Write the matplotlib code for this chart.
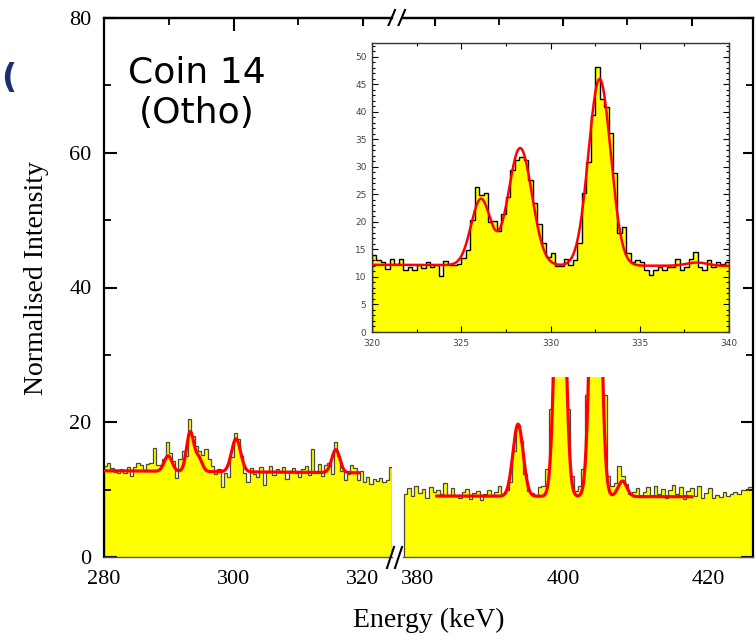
import numpy as np
import matplotlib
matplotlib.use('Agg')
import matplotlib.pyplot as plt
from matplotlib.patches import Rectangle
from matplotlib.lines import Line2D
from matplotlib.ticker import MultipleLocator

W, H = 756, 634

# ---------------- data ----------------
left_start, left_width = 280.0, 0.5
left_counts = [13.5, 13.9, 13.2, 12.6, 12.4, 13.1, 12.5, 13.3, 12.0, 13.4,
               14.0, 13.6, 12.7, 13.8, 13.9, 16.2, 13.6, 13.7, 14.5, 17.1,
               15.5, 14.2, 11.7, 14.5, 15.8, 15.0, 20.5, 18.0, 16.5, 15.8,
               15.2, 16.0, 14.6, 13.5, 12.3, 13.0, 10.4, 12.5, 11.8, 14.8,
               18.4, 17.5, 15.0, 12.4, 11.2, 13.2, 12.3, 11.9, 13.3, 10.7,
               12.8, 13.5, 12.2, 13.0, 12.7, 13.4, 11.6, 12.8, 13.2, 12.4,
               11.9, 13.0, 13.5, 12.2, 16.0, 12.4, 13.8, 12.0, 13.6, 14.0,
               12.3, 17.1, 15.0, 12.7, 11.5, 12.3, 13.6, 13.2, 11.4, 12.8,
               11.2, 11.9, 10.8, 11.6, 11.3, 11.7, 11.1, 11.5, 13.3]

right_start, right_width = 378.0, 0.5
right_counts = [9.3, 10.2, 9.0, 10.6, 9.5, 10.1, 8.8, 10.4, 9.6, 9.9,
                9.4, 11.0, 9.2, 10.3, 9.1, 8.7, 9.6, 10.1, 8.6, 9.5,
                9.8, 8.5, 9.4, 9.9, 9.2, 9.7, 10.5, 9.3, 10.0, 11.2,
                15.8, 19.6, 17.2, 12.3, 9.8, 9.5, 9.2, 10.4, 10.5, 13.0,
                22.0, 40.0, 55.0, 58.0, 42.0, 22.0, 12.0, 9.8, 10.5, 13.0,
                24.0, 45.0, 63.0, 66.0, 46.0, 24.0, 12.0, 10.5,
                11.0, 13.5, 12.0, 10.8, 9.3, 9.6, 10.2, 8.9, 9.7, 10.4, 9.1, 10.6,
                9.4, 10.1, 8.8, 9.9, 10.7, 9.3, 10.4, 8.6, 9.8, 10.3,
                9.0, 10.5, 8.7, 9.5, 10.2, 8.8, 9.2, 8.9, 9.6, 9.1,
                9.4, 9.7, 9.3, 9.9, 10.0, 10.4, 10.1]

inset_start, inset_width = 320.0, 0.25
inset_counts = [13.9, 13.0, 12.7, 11.4, 13.3, 12.4, 13.3, 11.3, 11.8, 11.3,
                12.2, 11.6, 12.7, 11.8, 12.1, 10.1, 12.9, 12.2, 12.1, 12.3,
                13.5, 14.9, 20.3, 26.4, 24.8, 25.2, 20.0, 20.1, 18.3, 21.5,
                24.5, 29.4, 31.2, 31.8, 31.2, 27.6, 23.4, 19.7, 16.1, 13.7,
                14.3, 11.9, 12.0, 13.3, 12.1, 13.0, 16.1, 25.2, 30.9, 39.5,
                48.2, 42.4, 40.9, 36.1, 28.8, 17.9, 19.1, 14.3, 12.7, 13.0,
                12.7, 11.3, 10.3, 11.3, 11.8, 11.3, 11.8, 11.8, 13.3, 11.3,
                11.8, 13.3, 14.6, 11.8, 11.3, 13.0, 11.8, 12.7, 12.4, 12.7]

# fitted-curve parameters (baseline + gaussian peaks)
left_fit_range = (280.0, 319.4)
left_fit_base = (12.8, 12.5)
left_peak_E = [289.9, 293.3, 294.6, 300.4, 315.8]
left_peak_A = [2.3, 5.8, 2.0, 4.9, 3.4]
left_peak_S = [0.6, 0.55, 0.55, 0.7, 0.62]

right_fit_range = (382.6, 417.8)
right_fit_base = (9.05, 8.95)
right_peak_E = [393.8, 399.6, 404.5, 408.2]
right_peak_A = [10.7, 50.0, 57.0, 2.3]
right_peak_S = [0.7, 0.65, 0.65, 0.6]

inset_fit_range = (320.0, 340.0)
inset_fit_base = (12.2, 12.0)
inset_peak_E = [326.1, 328.3, 332.75, 338.2]
inset_peak_A = [12.0, 21.3, 33.9, 0.6]
inset_peak_S = [0.55, 0.66, 0.62, 0.6]

left_xticks = [280, 300, 320]
right_xticks = [380, 400, 420]
main_yticks = [0, 20, 40, 60, 80]

YELLOW = '#FFFF00'
RED = '#FF0000'
SERIF = ['Liberation Serif', 'DejaVu Serif']


def edges(start, width, n):
    return start + width * np.arange(n + 1)


def fit_curve(rng, base, Es, As, Ss):
    x = np.linspace(rng[0], rng[1], 800)
    y = base[0] + (base[1] - base[0]) * (x - rng[0]) / (rng[1] - rng[0])
    for e, a, s in zip(Es, As, Ss):
        y = y + a * np.exp(-(x - e) ** 2 / (2 * s ** 2))
    return x, y


def fx(px):
    return px / W


def fy(py):
    return (H - py) / H


fig = plt.figure(figsize=(W / 100, H / 100), dpi=100)

axL = fig.add_axes([fx(104), fy(557), (392 - 104) / W, (557 - 18) / H], zorder=1)
axR = fig.add_axes([fx(403), fy(557), (753 - 403) / W, (557 - 18) / H], zorder=1)

# histograms
for ax, st, wd, cnt in ((axL, left_start, left_width, left_counts),
                        (axR, right_start, right_width, right_counts)):
    e = edges(st, wd, len(cnt))
    ax.stairs(cnt, e, fill=True, color=YELLOW, baseline=0, zorder=1)
    ax.stairs(cnt, e, color='#4a4a3a', linewidth=0.9, baseline=0, zorder=2)

xl, yl = fit_curve(left_fit_range, left_fit_base, left_peak_E, left_peak_A, left_peak_S)
axL.plot(xl, yl, color=RED, lw=2.3, zorder=3)
xr, yr = fit_curve(right_fit_range, right_fit_base, right_peak_E, right_peak_A, right_peak_S)
axR.plot(xr, yr, color=RED, lw=2.3, zorder=3)

axL.set_xlim(280, 280 + (392 - 104) / 6.475)
axR.set_xlim(380 - (418 - 403) / 7.25, 380 + (753 - 418) / 7.25)
for ax in (axL, axR):
    ax.set_ylim(0, 80)
    ax.set_facecolor('none')
    for s in ('top', 'left', 'right'):
        ax.spines[s].set_linewidth(1.6)
    ax.spines['bottom'].set_linewidth(1.0)
    ax.spines['bottom'].set_color('#555555')

axL.spines['right'].set_visible(False)
axR.spines['left'].set_visible(False)

axL.set_xticks(left_xticks)
axR.set_xticks(right_xticks)
for ax in (axL, axR):
    ax.tick_params(axis='x', which='both', length=0, pad=9, labelsize=16,
                   bottom=True, top=False)
    for lab in ax.get_xticklabels():
        lab.set_fontfamily(SERIF)

axL.set_yticks(main_yticks)
axL.yaxis.set_minor_locator(MultipleLocator(10))
axL.tick_params(axis='y', which='major', direction='in', length=9, width=1.5,
                labelsize=16, pad=9, left=True, right=False)
axL.tick_params(axis='y', which='minor', direction='in', length=5, width=1.3,
                left=True, right=False)
for lab in axL.get_yticklabels():
    lab.set_fontfamily(SERIF)

axR.set_yticks(main_yticks)
axR.yaxis.set_minor_locator(MultipleLocator(10))
axR.tick_params(axis='y', which='major', direction='in', length=9, width=1.5,
                left=False, right=True, labelleft=False, labelright=False)
axR.tick_params(axis='y', which='minor', direction='in', length=5, width=1.3,
                left=False, right=True)

# top tick marks (placed as in the picture)
secL = axL.secondary_xaxis('top')
secL.set_xticks([300, 320])
secL.set_xticks([290, 310], minor=True)
secR = axR.secondary_xaxis('top')
secR.set_xticks([382.3, 400.0, 417.8])
secR.set_xticks([391.2, 408.8], minor=True)
for sec in (secL, secR):
    sec.tick_params(which='major', direction='in', length=9, width=1.5, labeltop=False)
    sec.tick_params(which='minor', direction='in', length=5, width=1.3, labeltop=False)
    sec.spines['top'].set_linewidth(1.6)

# break marks
for x0 in (387, 397):
    fig.add_artist(Line2D([fx(x0), fx(x0 + 8)], [fy(29), fy(10)], color='black', lw=1.5))
for x0 in (387, 395):
    fig.add_artist(Line2D([fx(x0), fx(x0 + 7)], [fy(568), fy(547)], color='black', lw=1.5))

# white panel behind the inset
fig.add_artist(Rectangle((fx(318), fy(377)), (743 - 318) / W, (377 - 26) / H,
                         transform=fig.transFigure, facecolor='white',
                         edgecolor='none', zorder=5))

# inset
axI = fig.add_axes([fx(372), fy(332), (729 - 372) / W, (332 - 43) / H], zorder=10)
ei = edges(inset_start, inset_width, len(inset_counts))
axI.stairs(inset_counts, ei, fill=True, color=YELLOW, baseline=0, zorder=1)
axI.stairs(inset_counts, ei, color='black', linewidth=1.0, baseline=0, zorder=2)
xi, yi = fit_curve(inset_fit_range, inset_fit_base, inset_peak_E, inset_peak_A, inset_peak_S)
axI.plot(xi, yi, color=RED, lw=1.8, zorder=3)
axI.set_xlim(320, 340)
axI.set_ylim(0, 52.5)
axI.xaxis.set_major_locator(MultipleLocator(5))
axI.xaxis.set_minor_locator(MultipleLocator(2.5))
axI.yaxis.set_major_locator(MultipleLocator(5))
axI.yaxis.set_minor_locator(MultipleLocator(1))
axI.tick_params(which='both', direction='in', top=True, right=True,
                labelsize=6.5, labelcolor='#444444', width=0.8)
axI.tick_params(axis='x', which='major', pad=5)
axI.tick_params(axis='y', which='major', pad=4)
axI.tick_params(which='major', length=4)
axI.tick_params(which='minor', length=2)
for s in axI.spines.values():
    s.set_linewidth(1.0)
    s.set_color('#333333')

fig.text(fx(543), fy(366), 'Energy (keV)', ha='center', va='center',
         fontsize=10, family=SERIF, color='#222222')
fig.text(fx(330), fy(183), 'Normalised Intensity', ha='center', va='center',
         rotation=90, fontsize=10, family=SERIF, color='#222222')

# main labels
fig.text(fx(429), fy(620), 'Energy (keV)', ha='center', va='center',
         fontsize=20, family=SERIF)
fig.text(fx(37), fy(278), 'Normalised Intensity', ha='center', va='center',
         rotation=90, fontsize=20, family=SERIF)

fig.text(fx(197), fy(93), 'Coin 14\n(Otho)', ha='center', va='center',
         fontsize=26, family=['DejaVu Sans'], linespacing=1.25, zorder=20)
fig.text(fx(9), fy(78), '(', ha='center', va='center', fontsize=24,
         fontweight='bold', color='#1c2f6b', family=['DejaVu Sans'])

fig.savefig('out.png', dpi=100)
